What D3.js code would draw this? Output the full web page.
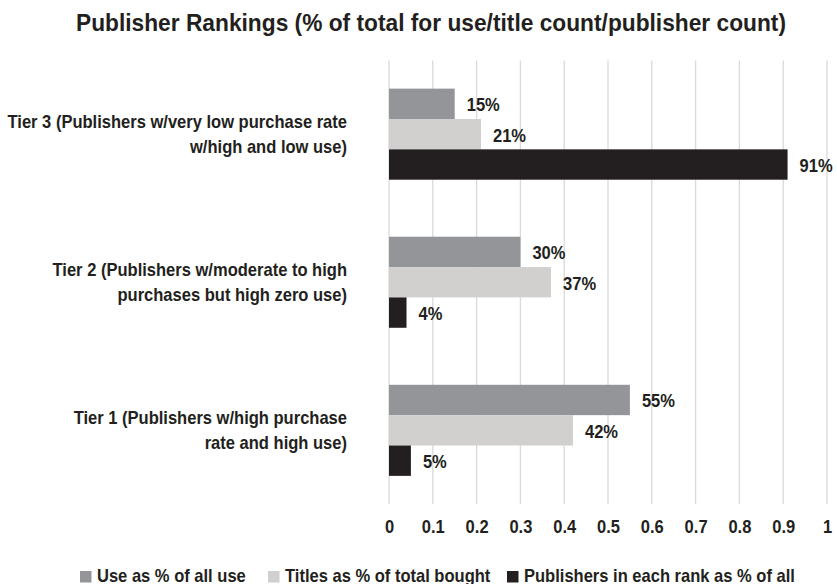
<!DOCTYPE html>
<html>
<head>
<meta charset="utf-8">
<script src="https://d3js.org/d3.v7.min.js"></script>
<style>
  body { margin: 0; background: #fff; }
  text { font-family: "Liberation Sans", Arial, sans-serif; font-weight: bold; fill: #231f20; }
</style>
</head>
<body>
<div id="chartDiv"></div>
<script>
  // tiers, top to bottom as drawn
  var tiers = ["Tier 3", "Tier 2", "Tier 1"];
  var tierLabels = [
    ["Tier 3 (Publishers w/very low purchase rate", "w/high and low use)"],
    ["Tier 2 (Publishers w/moderate to high", "purchases but high zero use)"],
    ["Tier 1 (Publishers w/high purchase", "rate and high use)"]
  ];
  var seriesNames = ["Use as % of all use", "Titles as % of total bought", "Publishers in each rank as % of all"];
  var useShare = [0.15, 0.30, 0.55];
  var titleShare = [0.21, 0.37, 0.42];
  var publisherShare = [0.91, 0.04, 0.05];
  var xTicks = [0, 0.1, 0.2, 0.3, 0.4, 0.5, 0.6, 0.7, 0.8, 0.9, 1];
  var colors = ["#939598", "#d1d0ce", "#231f20"];

  var series = [useShare, titleShare, publisherShare];

  var width = 837, height = 584;
  var fs = "19px";

  var svg = d3.select("#chartDiv").append("svg")
    .attr("width", width)
    .attr("height", height);

  // squeeze a text horizontally so it looks like a condensed face
  var cond = 1;
  function squeeze(node, k, anchor, ax) {
    var w = node.getComputedTextLength();
    var t = w * k;
    var s = d3.select(node)
      .attr("textLength", t)
      .attr("lengthAdjust", "spacingAndGlyphs")
      .attr("text-anchor", "start");
    if (anchor === "end") s.attr("x", ax - t);
    else if (anchor === "middle") s.attr("x", ax - t / 2);
    else s.attr("x", ax);
  }

  var x = d3.scaleLinear().domain([0, 1]).range([389, 827]);
  var y = d3.scaleBand().domain(tiers).range([60.5, 504]).paddingInner(0.385).paddingOuter(0.19);
  var y1 = d3.scaleBand().domain(d3.range(3)).range([0, y.bandwidth()]);

  // title
  var title = svg.append("text")
    .attr("y", 31)
    .style("font-size", "24px")
    .text("Publisher Rankings (% of total for use/title count/publisher count)");
  var tw = title.node().getComputedTextLength();
  squeeze(title.node(), 710 / tw, "start", 76);

  // gridlines
  svg.append("g")
    .selectAll("line")
    .data(xTicks)
    .enter().append("line")
    .attr("x1", function(d) { return x(d); })
    .attr("x2", function(d) { return x(d); })
    .attr("y1", 60.5)
    .attr("y2", 504)
    .attr("stroke", "#dadada")
    .attr("stroke-width", 1.3);

  // bars
  var groups = svg.append("g")
    .selectAll("g")
    .data(tiers)
    .enter().append("g")
    .attr("transform", function(d) { return "translate(0," + y(d) + ")"; });

  // category labels (measure first line of top tier to get condense factor)
  groups.each(function(t, ti) {
    var g = d3.select(this);
    tierLabels[ti].forEach(function(line, li) {
      g.append("text")
        .attr("class", "cat")
        .attr("y", y.bandwidth() / 2 - 6 + li * 25)
        .style("font-size", fs)
        .text(line);
    });
  });
  var first = svg.select("text.cat").node();
  cond = 339.5 / first.getComputedTextLength();
  svg.selectAll("text.cat").each(function() { squeeze(this, cond, "end", 347); });

  groups.each(function(t, ti) {
    var g = d3.select(this);
    series.forEach(function(s, si) {
      g.append("rect")
        .attr("x", x(0))
        .attr("y", y1(si))
        .attr("width", x(s[ti]) - x(0))
        .attr("height", y1.bandwidth())
        .attr("fill", colors[si]);
      var lbl = g.append("text")
        .attr("y", y1(si) + y1.bandwidth() / 2 + 7.5)
        .style("font-size", fs)
        .text(d3.format(".0%")(s[ti]));
      squeeze(lbl.node(), cond, "start", x(s[ti]) + 12);
    });
  });

  // x axis labels
  var xAxis = d3.axisBottom(x)
    .tickValues(xTicks)
    .tickSize(0)
    .tickPadding(0)
    .tickFormat(function(d) { return d === 0 || d === 1 ? d3.format("d")(d) : d3.format(".1f")(d); });

  var ax = svg.append("g")
    .attr("transform", "translate(0,533)")
    .call(xAxis);
  ax.select(".domain").remove();
  ax.selectAll("text")
    .attr("dy", null)
    .attr("y", 0)
    .attr("fill", "#231f20")
    .style("font-size", fs)
    .each(function() { squeeze(this, cond, "middle", 0); });

  // legend
  var legendX = [80, 268, 507];
  var legend = svg.append("g")
    .selectAll("g")
    .data(seriesNames)
    .enter().append("g")
    .attr("transform", function(d, i) { return "translate(" + legendX[i] + ",571)"; });
  legend.append("rect")
    .attr("width", 11.5)
    .attr("height", 11.5)
    .attr("fill", function(d, i) { return colors[i]; });
  legend.append("text")
    .attr("y", 11)
    .style("font-size", fs)
    .text(function(d) { return d; })
    .each(function() { squeeze(this, cond, "start", 17); });
</script>
</body>
</html>
